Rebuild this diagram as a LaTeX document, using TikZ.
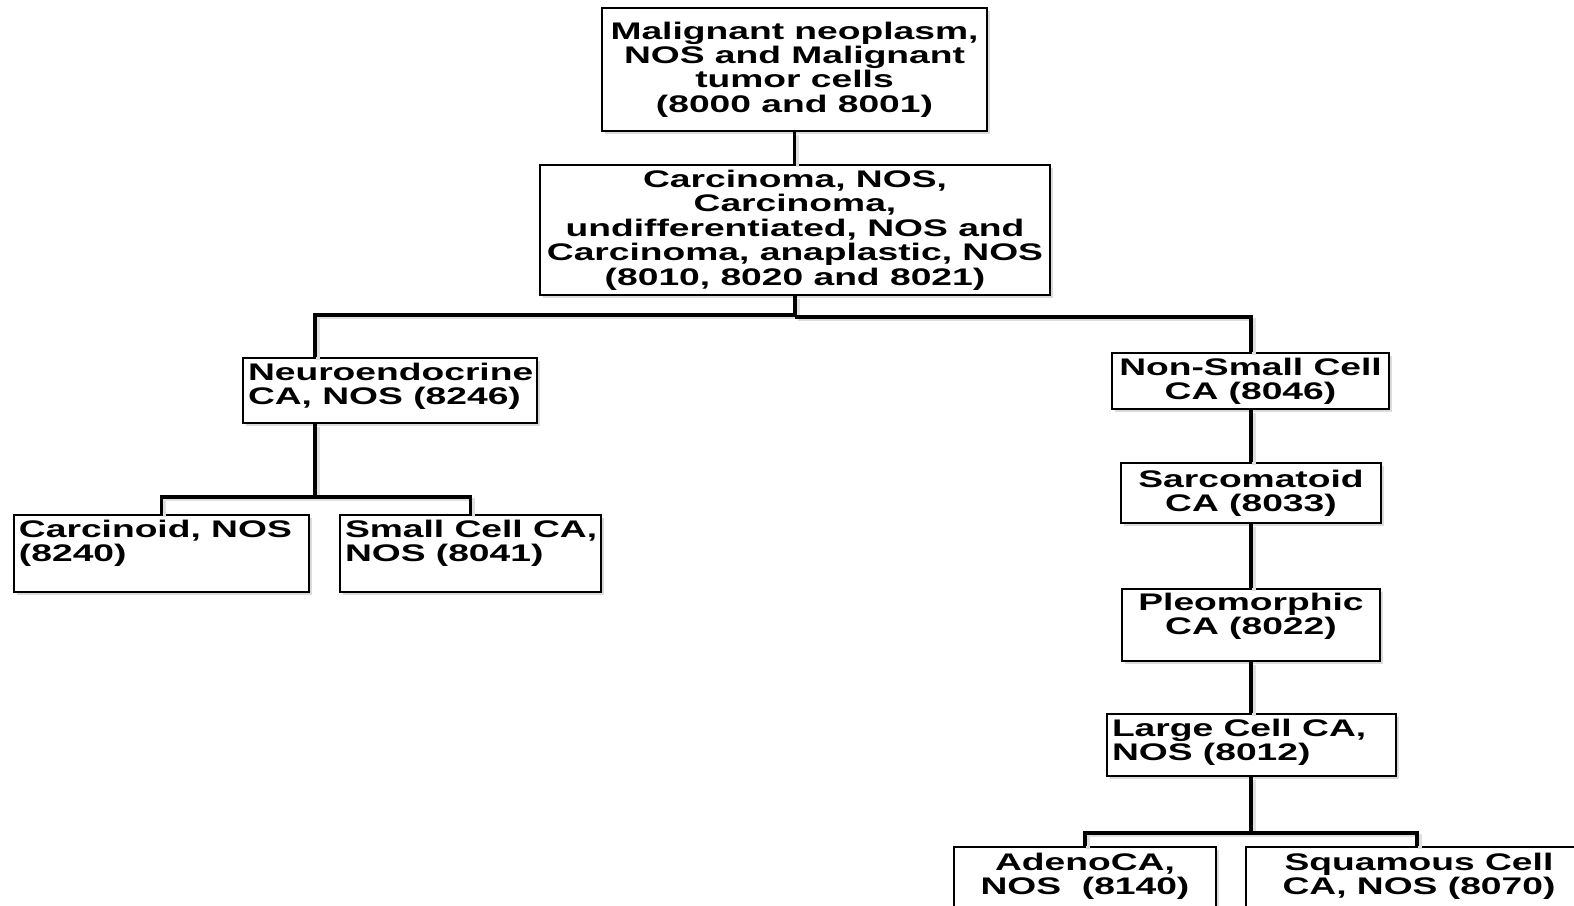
\documentclass[tikz,border=0pt]{standalone}
\usepackage{fontspec}
\setmainfont{Liberation Sans}[FakeStretch=1.55]
\usetikzlibrary{shadows}
\tikzset{
  box/.style={draw=black, line width=2pt, fill=white, inner sep=0pt, anchor=north west,
    drop shadow={shadow xshift=3pt, shadow yshift=-3pt, fill=gray!28, opacity=1}},
  conn/.style={line width=3.4pt, draw=black,
    preaction={draw=gray!25, line width=3.4pt, transform canvas={shift={(3pt,-2.5pt)}}}}
}
\newcommand\cbox[4]{\parbox[t][#2][#3]{#1}{\centering #4}}
\newcommand\lbox[4]{\parbox[t][#2][#3]{#1}{\raggedright\leftskip=5pt #4}}
\begin{document}
\begin{tikzpicture}[x=1pt,y=-1pt,font=\fontsize{24}{24.4}\selectfont\bfseries]
\useasboundingbox (0,0) rectangle (1574,905);
\clip (0,0) rectangle (1574,905);
\coordinate (lx) at (315,0);
\coordinate (rx) at (1251,0);
\coordinate (sqx) at (1417,0);

\node[box] (b1) at (601,7) {\cbox{385pt}{123pt}{c}{\mbox{Malignant neoplasm,}\\ \mbox{NOS and Malignant}\\ \mbox{tumor cells}\\ \mbox{(8000 and 8001)}}};
\node[box] (b2) at (539,164) {\cbox{510pt}{130pt}{c}{\mbox{Carcinoma, NOS,}\\ \mbox{Carcinoma,}\\ \mbox{undifferentiated, NOS and}\\ \mbox{Carcinoma, anaplastic, NOS}\\ \mbox{(8010, 8020 and 8021)}}};
\node[box] (ne) at (242,357) {\lbox{294pt}{65pt}{t}{\vspace*{5pt}\mbox{Neuroendocrine}\\ \mbox{CA, NOS (8246)}}};
\node[box] (car) at (13,514) {\lbox{295pt}{77pt}{t}{\vspace*{5pt}\mbox{Carcinoid, NOS}\\ \mbox{(8240)}}};
\node[box] (sc) at (339,514) {\lbox{261pt}{77pt}{t}{\vspace*{5pt}\mbox{Small Cell CA,}\\ \mbox{NOS (8041)}}};
\node[box] (ns) at (1111,352) {\cbox{277pt}{56pt}{c}{\mbox{Non-Small Cell}\\ \mbox{CA (8046)}}};
\node[box] (sa) at (1120,462) {\cbox{260pt}{60pt}{c}{\mbox{Sarcomatoid}\\ \mbox{CA (8033)}}};
\node[box] (pl) at (1121,588) {\cbox{258pt}{72pt}{t}{\vspace*{4pt}\mbox{Pleomorphic}\\ \mbox{CA (8022)}}};
\node[box] (lc) at (1106,713) {\lbox{289pt}{62pt}{t}{\vspace*{5pt}\mbox{Large Cell CA,}\\ \mbox{NOS (8012)}}};
\node[box] (ad) at (953,846) {\cbox{262pt}{70pt}{t}{\vspace*{6pt}\mbox{AdenoCA,}\\ \mbox{NOS~~(8140)}}};
\node[box] (sq) at (1245,846) {\cbox{346pt}{70pt}{t}{\vspace*{6pt}\mbox{Squamous Cell}\\ \mbox{CA, NOS (8070)}}};

\draw[conn] (b1.south) -- (b1.south |- b2.north);
\draw[conn] (b2.south) -- ++(0,19) -| (ne.north -| lx);
\draw[conn] (b2.south) ++(0,21) -| (ns.north -| rx);
\draw[conn] (ne.south -| lx) -- ++(0,73) coordinate (nj);
\draw[conn] (car.north) |- (nj) -| (sc.north);
\draw[conn] (ns.south -| rx) -- (sa.north -| rx);
\draw[conn] (sa.south -| rx) -- (pl.north -| rx);
\draw[conn] (pl.south -| rx) -- (lc.north -| rx);
\draw[conn] (lc.south -| rx) -- ++(0,56) coordinate (lj);
\draw[conn] (ad.north) |- (lj) -| (sq.north -| sqx);
\end{tikzpicture}
\end{document}
